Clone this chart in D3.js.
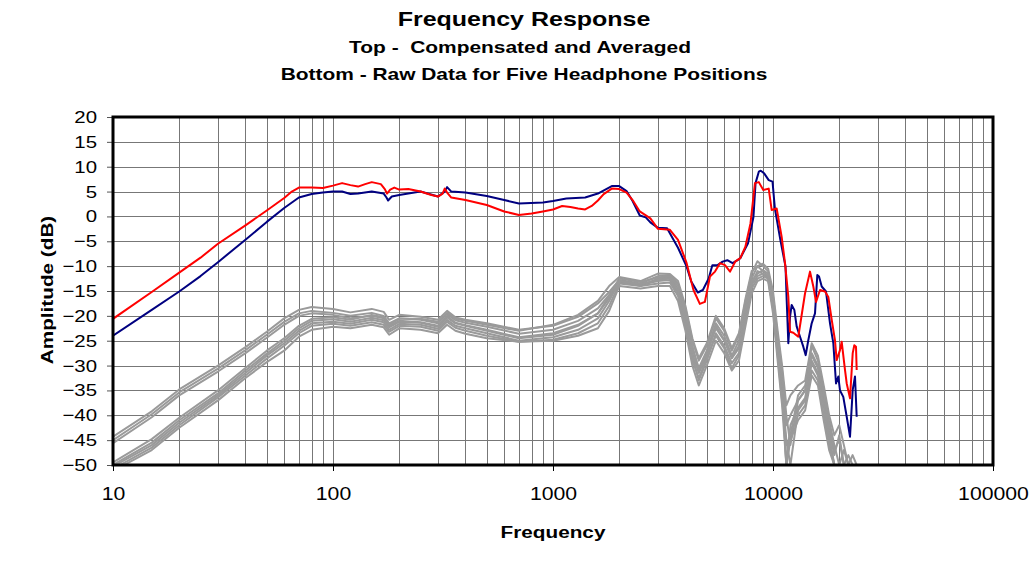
<!DOCTYPE html>
<html>
<head>
<meta charset="utf-8">
<script src="https://cdn.jsdelivr.net/npm/d3@7"></script>
<style>
  html, body { margin: 0; padding: 0; background: #fff; }
  svg { display: block; }
  text { font-family: "Liberation Sans", Arial, sans-serif; fill: #000; white-space: pre; }
</style>
</head>
<body>
<svg id="chart" width="1033" height="565"></svg>
<script>
// ---------------- DATA ----------------
const titleText = "Frequency Response";
const subtitle1 = "Top -  Compensated and Averaged";
const subtitle2 = "Bottom - Raw Data for Five Headphone Positions";
const xAxisTitle = "Frequency";
const yAxisTitle = "Amplitude (dB)";

const xTickValues = [10, 100, 1000, 10000, 100000];
const yTickValues = [20, 15, 10, 5, 0, -5, -10, -15, -20, -25, -30, -35, -40, -45, -50];

// Compensated and averaged (red)
const redFreq = [10, 15, 20, 25, 30, 40, 50, 60, 65, 70, 80, 90, 100, 110, 120, 130, 140, 150, 165, 172, 176, 182, 190, 200, 220, 250, 280, 300, 315, 322, 330, 345, 400, 500, 600, 700, 800, 900, 1000, 1100, 1200, 1300, 1400, 1500, 1600, 1700, 1850, 2000, 2160, 2300, 2480, 2770, 3000, 3400, 3700, 4050, 4350, 4650, 4900, 5170, 5450, 5740, 6050, 6380, 6730, 7100, 7490, 7900, 8280, 8620, 9035, 9560, 9860, 10390, 10950, 11340, 11740, 11950, 12370, 13030, 13980, 14730, 15250, 15690, 16360, 17240, 17840, 18490, 19130, 19470, 20160, 20520, 21250, 21630, 22390, 23030, 23420, 23840, 24010];
const redAmp  = [-20.6, -15.2, -11.3, -8.3, -5.5, -1.8, 1.2, 3.7, 5.0, 5.8, 5.8, 5.7, 6.2, 6.7, 6.3, 6.0, 6.5, 6.9, 6.5, 5.5, 4.6, 5.4, 5.8, 5.4, 5.5, 5.0, 4.3, 4.0, 4.6, 5.6, 4.8, 3.8, 3.3, 2.3, 1.0, 0.3, 0.6, 1.0, 1.4, 2.1, 1.9, 1.6, 1.4, 2.1, 3.2, 4.5, 5.6, 5.5, 4.8, 3.3, 1.0, -0.4, -2.5, -2.7, -4.7, -9.4, -14.8, -17.6, -17.2, -12.1, -11.1, -9.4, -9.8, -11.1, -9.1, -8.4, -6.1, -1.4, 6.7, 6.9, 5.3, 5.6, 1.3, 1.6, -4.1, -9.4, -16.2, -23.2, -23.4, -24.2, -15.5, -11.1, -14.1, -17.2, -14.8, -15.1, -16.2, -20.8, -24.9, -28.9, -26.9, -25.2, -30.9, -33.6, -36.6, -27.5, -25.9, -26.2, -30.9];

// Compensated and averaged (blue)
const blueFreq = [10, 15, 20, 25, 30, 40, 50, 60, 70, 80, 90, 100, 110, 120, 130, 150, 170, 175, 178, 185, 200, 220, 250, 300, 322, 330, 345, 400, 500, 600, 700, 900, 1000, 1150, 1400, 1600, 1850, 2000, 2160, 2300, 2480, 2640, 2770, 3000, 3300, 3700, 4050, 4250, 4550, 4800, 5100, 5300, 5600, 5900, 6200, 6550, 6900, 7100, 7700, 8150, 8330, 8620, 8800, 9100, 9560, 9950, 10200, 10800, 11400, 11540, 11740, 11950, 12160, 12500, 12820, 13270, 13730, 14080, 14470, 14990, 15520, 15900, 16190, 16650, 17410, 18160, 18800, 19340, 19810, 20160, 20870, 21630, 22390, 23030, 23590, 24010];
const blueAmp  = [-24.0, -18.8, -15.1, -12.0, -9.2, -4.7, -1.1, 1.7, 3.8, 4.5, 4.8, 5.0, 5.0, 4.5, 4.6, 5.0, 4.6, 3.8, 3.2, 4.0, 4.3, 4.6, 5.0, 4.0, 5.0, 5.9, 5.0, 4.8, 4.1, 3.3, 2.6, 2.8, 3.1, 3.6, 3.8, 4.6, 6.1, 6.1, 5.1, 3.1, 0.2, -0.2, -1.2, -2.3, -2.4, -6.3, -10.1, -13.1, -15.3, -14.8, -12.5, -9.8, -9.8, -9.1, -8.8, -9.4, -8.8, -8.4, -5.4, -0.1, 6.7, 9.0, 9.2, 8.7, 7.3, 7.0, 1.6, -4.7, -10.1, -16.8, -25.5, -20.2, -17.8, -18.8, -22.2, -24.2, -26.2, -27.9, -24.9, -21.5, -19.5, -11.8, -12.1, -14.1, -15.1, -21.5, -25.5, -33.6, -32.2, -35.0, -36.3, -40.3, -44.3, -34.9, -32.2, -40.3];

// Raw data, five headphone positions (grey), shared frequency list
const grayFreq = [10, 15, 20, 30, 40, 50, 60, 70, 80, 100, 120, 150, 170, 180, 200, 250, 300, 330, 360, 400, 500, 700, 1000, 1300, 1600, 1800, 2000, 2500, 3000, 3400, 3700, 4000, 4300, 4600, 5000, 5500, 6000, 6500, 7000, 7500, 8000, 8500, 9000, 9500, 10000, 10500, 11000, 11500, 12000, 13000, 14000, 15000, 16000, 17000, 18000, 19000, 20000, 21000, 22000, 23000, 24000];
const grayA1 = [-44.3, -39.2, -34.8, -30.0, -26.3, -23.2, -20.5, -18.8, -18.2, -18.6, -19.3, -18.6, -19.2, -20.8, -19.8, -20.2, -20.8, -19.0, -20.3, -20.8, -21.5, -22.8, -22.0, -20.2, -17.5, -15.2, -12.8, -13.5, -12.0, -11.8, -13.5, -18.5, -25.0, -29.0, -26.0, -20.5, -23.0, -27.0, -24.0, -17.0, -11.5, -9.0, -10.0, -11.0, -16.0, -24.0, -31.0, -40.0, -46.0, -37.0, -35.0, -26.0, -29.0, -35.0, -41.0, -46.0, -50, -47, -50, -50, -50];
const grayA2 = [-45.0, -39.8, -35.4, -30.6, -26.9, -23.8, -21.2, -19.5, -19.0, -19.4, -20.0, -19.4, -20.0, -21.5, -20.5, -20.8, -21.5, -19.6, -20.9, -21.4, -22.2, -23.6, -22.8, -21.0, -18.5, -15.8, -13.0, -14.0, -12.5, -12.3, -14.5, -20.0, -26.5, -30.5, -27.0, -21.5, -24.0, -28.0, -25.0, -18.0, -12.5, -10.0, -11.0, -12.0, -17.5, -26.0, -34.0, -50, -44.0, -36.0, -34.0, -28.0, -30.5, -37.0, -43.0, -48.0, -44.0, -50, -50, -50, -50];
const grayA3 = [-45.6, -40.4, -36.0, -31.2, -27.5, -24.4, -21.8, -20.0, -19.5, -19.8, -20.5, -20.0, -20.5, -22.0, -21.0, -21.3, -22.0, -20.0, -21.4, -21.9, -22.8, -24.3, -23.5, -21.8, -19.5, -16.5, -13.3, -13.8, -13.0, -12.8, -15.5, -21.0, -27.5, -31.5, -28.0, -22.0, -24.8, -28.5, -26.0, -19.0, -13.5, -11.0, -11.5, -12.5, -18.5, -27.0, -35.0, -45.0, -50, -39.0, -37.0, -29.0, -31.5, -38.0, -45.0, -50, -50, -50, -50, -50, -50];
const grayB1 = [-49.5, -44.8, -40.5, -35.0, -30.5, -27.0, -24.5, -22.0, -20.6, -20.3, -20.8, -19.8, -20.3, -21.8, -20.6, -20.6, -21.2, -19.4, -20.6, -21.0, -21.8, -23.0, -21.8, -19.8, -17.0, -14.0, -12.2, -13.0, -11.5, -11.6, -13.0, -18.0, -24.5, -28.5, -25.5, -20.0, -22.5, -26.5, -23.5, -16.5, -11.0, -10.0, -9.5, -10.5, -15.0, -23.0, -30.0, -38.0, -36.0, -34.0, -33.0, -25.5, -28.0, -34.0, -40.0, -44.0, -42.0, -46.0, -50, -48.0, -50];
const grayB2 = [-50.0, -45.5, -41.0, -35.6, -31.0, -27.6, -25.0, -22.5, -21.0, -20.7, -21.2, -20.4, -20.9, -22.3, -21.2, -21.4, -22.2, -20.3, -21.5, -22.0, -23.0, -24.5, -23.8, -22.0, -19.5, -16.0, -12.5, -13.2, -12.3, -12.0, -14.0, -19.5, -26.0, -31.0, -27.5, -22.5, -25.0, -28.5, -26.5, -19.0, -13.0, -11.5, -10.8, -11.5, -16.5, -25.0, -33.0, -42.0, -40.0, -37.0, -35.0, -27.5, -30.0, -36.0, -42.0, -47.0, -45.0, -50, -50, -50, -50];
const grayB3 = [-50.3, -46.0, -41.5, -36.0, -31.5, -28.0, -25.5, -23.0, -21.5, -21.2, -21.6, -20.8, -21.3, -22.8, -21.6, -21.8, -22.6, -20.8, -22.0, -22.5, -23.5, -25.0, -24.3, -22.8, -20.5, -17.0, -13.0, -13.6, -12.8, -12.5, -15.0, -21.0, -28.0, -33.0, -29.0, -23.5, -26.0, -29.5, -27.5, -20.0, -13.8, -12.0, -11.5, -12.0, -17.5, -26.5, -35.0, -50, -42.0, -38.5, -36.5, -29.5, -32.0, -38.0, -44.0, -50, -50, -50, -48, -50, -50];
const grayB4 = [-50.8, -46.5, -42.0, -36.4, -32.0, -28.6, -26.0, -23.5, -22.0, -21.6, -22.0, -21.3, -21.8, -23.2, -22.0, -22.2, -23.0, -21.2, -22.4, -23.0, -24.0, -25.2, -24.8, -23.5, -21.5, -18.0, -13.5, -14.0, -13.5, -13.3, -16.0, -22.0, -29.0, -32.5, -28.5, -24.0, -26.5, -30.5, -28.0, -21.0, -14.5, -12.5, -12.0, -12.5, -18.5, -28.0, -37.0, -46.0, -44.0, -40.0, -38.0, -31.0, -33.0, -40.0, -46.0, -50, -50, -50, -50, -50, -50];
const grayB5 = [-51.2, -47.0, -42.5, -37.0, -32.5, -29.3, -27.0, -24.2, -22.8, -22.2, -22.5, -21.8, -22.3, -23.8, -22.5, -22.8, -23.5, -21.8, -23.0, -23.6, -24.5, -25.2, -25.0, -24.0, -22.5, -19.0, -14.0, -14.5, -14.0, -14.0, -17.0, -23.0, -30.0, -34.0, -30.0, -25.0, -27.5, -31.0, -29.0, -22.0, -15.5, -13.0, -12.5, -13.0, -19.5, -29.0, -38.0, -50, -45.0, -41.0, -39.0, -32.0, -34.0, -41.0, -47.0, -50, -50, -50, -50, -50, -50];
const graySeries = [grayA1, grayA2, grayA3, grayB1, grayB2, grayB3, grayB4, grayB5];

// ---------------- LAYOUT ----------------
const plotLeft = 113, plotRight = 993, plotTop = 117, plotBottom = 465;

const svg = d3.select("#chart");
const x = d3.scaleLog().domain([10, 100000]).range([plotLeft, plotRight]);
const y = d3.scaleLinear().domain([-50, 20]).range([plotBottom, plotTop]);

// grid
const xGridValues = [];
[10, 100, 1000, 10000].forEach(d => { for (let k = 1; k <= 9; k++) xGridValues.push(k * d); });
xGridValues.push(100000);

const grid = svg.append("g");
grid.selectAll("line.vx").data(xGridValues).join("line")
  .attr("x1", d => Math.round(x(d)) + 0.5).attr("x2", d => Math.round(x(d)) + 0.5)
  .attr("y1", plotTop).attr("y2", plotBottom)
  .attr("stroke", "#777").attr("stroke-width", 1);
grid.selectAll("line.hy").data(yTickValues).join("line")
  .attr("x1", plotLeft).attr("x2", plotRight)
  .attr("y1", d => Math.round(y(d)) + 0.5).attr("y2", d => Math.round(y(d)) + 0.5)
  .attr("stroke", "#777").attr("stroke-width", 1);

// clip
svg.append("clipPath").attr("id", "plotClip").append("rect")
  .attr("x", plotLeft).attr("y", plotTop)
  .attr("width", plotRight - plotLeft).attr("height", plotBottom - plotTop);

const line = d3.line().x(d => x(d[0])).y(d => y(d[1]));
const curves = svg.append("g").attr("clip-path", "url(#plotClip)");

graySeries.forEach(s => {
  curves.append("path")
    .datum(grayFreq.map((f, i) => [f, s[i]]))
    .attr("d", line).attr("fill", "none")
    .attr("stroke", "#9a9a9a").attr("stroke-width", 2).attr("stroke-linejoin", "round");
});
curves.append("path")
  .datum(blueFreq.map((f, i) => [f, blueAmp[i]]))
  .attr("d", line).attr("fill", "none")
  .attr("stroke", "#000080").attr("stroke-width", 2).attr("stroke-linejoin", "round");
curves.append("path")
  .datum(redFreq.map((f, i) => [f, redAmp[i]]))
  .attr("d", line).attr("fill", "none")
  .attr("stroke", "#ff0000").attr("stroke-width", 2).attr("stroke-linejoin", "round");

// axes
const yStretch = 1.2, xStretch = 1.18;
const yAxis = d3.axisLeft(y).tickValues(yTickValues).tickSize(6).tickPadding(10).tickFormat(d3.format("d"));
const gy = svg.append("g").attr("transform", `translate(${plotLeft},0)`).call(yAxis);
gy.select(".domain").remove();
gy.selectAll(".tick line").attr("stroke", "#555");
gy.selectAll(".tick text")
  .style("font-family", "'Liberation Sans', Arial, sans-serif")
  .style("font-size", "17px")
  .attr("transform", `scale(${yStretch},1)`)
  .attr("x", -16 / yStretch);

const xAxis = d3.axisBottom(x).tickValues(xTickValues).tickSize(6).tickPadding(16).tickFormat(d3.format("d"));
const gx = svg.append("g").attr("transform", `translate(0,${plotBottom})`).call(xAxis);
gx.select(".domain").remove();
gx.selectAll(".tick line").attr("stroke", "#000");
gx.selectAll(".tick text")
  .style("font-family", "'Liberation Sans', Arial, sans-serif")
  .style("font-size", "18px")
  .attr("transform", `scale(${xStretch},1)`);

// frame
svg.append("rect")
  .attr("x", plotLeft).attr("y", plotTop)
  .attr("width", plotRight - plotLeft).attr("height", plotBottom - plotTop)
  .attr("fill", "none").attr("stroke", "#000").attr("stroke-width", 3);

// titles
function stretchedText(txt, cx, cy, size, stretch, rotate) {
  const g = svg.append("g").attr("transform", `translate(${cx},${cy})${rotate ? " rotate(" + rotate + ")" : ""} scale(${stretch},1)`);
  g.append("text").attr("text-anchor", "middle").attr("xml:space", "preserve")
    .style("font-size", size + "px").style("font-weight", "bold").text(txt);
}
stretchedText(titleText, 524, 26, 21, 1.19);
stretchedText(subtitle1, 520, 53, 17, 1.23);
stretchedText(subtitle2, 524, 80, 17, 1.23);
stretchedText(xAxisTitle, 553, 538, 17, 1.22);
stretchedText(yAxisTitle, 53, 290, 17, 1.22, -90);
</script>
</body>
</html>
